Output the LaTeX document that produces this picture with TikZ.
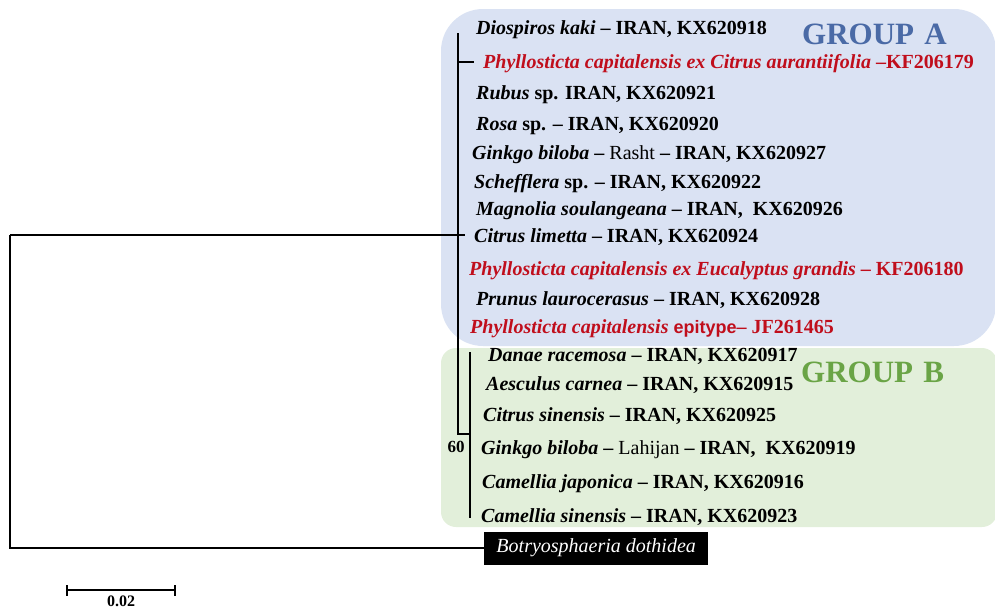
\documentclass[tikz,border=0pt]{standalone}
\usepackage{fontspec}
\setmainfont{Liberation Serif}
\setsansfont{Liberation Sans}
\definecolor{grpAfill}{RGB}{218,226,243}
\definecolor{grpBfill}{RGB}{226,239,218}
\definecolor{grpAtext}{RGB}{74,106,166}
\definecolor{grpBtext}{RGB}{106,164,70}
\definecolor{refred}{RGB}{192,14,28}
\tikzset{
  leaf/.style={anchor=base west, inner sep=0pt, font=\fontsize{20}{22}\selectfont\bfseries},
  redleaf/.style={leaf, text=refred},
  branch/.style={line width=1.4pt, black},
  grouplabel/.style={anchor=base west, inner sep=0pt, font=\fontsize{31}{33}\selectfont\bfseries},
}
\begin{document}
\begin{tikzpicture}[x=1pt,y=-1pt]
\useasboundingbox (0,0) rectangle (995,608);
% group boxes
\fill[grpAfill, rounded corners=42pt] (441,9) rectangle (996,346);
\fill[grpBfill, rounded corners=15pt] (441,348) rectangle (997,527);

\node[grouplabel, text=grpAtext] (ga) at (802,44) {GROUP\,\,A};
\node[grouplabel, text=grpBtext] (gb) at (801,382) {GROUP\,\,B};

% leaves
\node[leaf] (l1) at (476,34) {\textit{Diospiros kaki} -- IRAN, KX620918};
\node[redleaf] (l2) at (483,68) {\textit{Phyllosticta capitalensis ex Citrus aurantiifolia} --KF206179};
\node[leaf] (l3) at (476,99) {\textit{Rubus} sp. IRAN, KX620921};
\node[leaf] (l4) at (476,130) {\textit{Rosa} sp. -- IRAN, KX620920};
\node[leaf] (l5) at (472,159) {\textit{Ginkgo biloba} -- {\mdseries Rasht} -- IRAN, KX620927};
\node[leaf] (l6) at (474,188) {\textit{Schefflera} sp. -- IRAN, KX620922};
\node[leaf] (l7) at (476,215) {\textit{Magnolia soulangeana} -- IRAN,\ \ KX620926};
\node[leaf] (l8) at (474,242) {\textit{Citrus limetta} -- IRAN, KX620924};
\node[redleaf] (l9) at (469,275) {\textit{Phyllosticta capitalensis ex Eucalyptus grandis} -- KF206180};
\node[leaf] (l10) at (476,305) {\textit{Prunus laurocerasus} -- IRAN, KX620928};
\node[redleaf] (l11) at (470,333) {\textit{Phyllosticta capitalensis} {\sffamily\fontsize{18}{20}\selectfont epitype}-- JF261465};
\node[leaf] (l12) at (488,361) {\textit{Danae racemosa} -- IRAN, KX620917};
\node[leaf] (l13) at (486,390) {\textit{Aesculus carnea} -- IRAN, KX620915};
\node[leaf] (l14) at (483,421) {\textit{Citrus sinensis} -- IRAN, KX620925};
\node[leaf] (l15) at (481,454) {\textit{Ginkgo biloba} -- {\mdseries Lahijan} -- IRAN,\ \ KX620919};
\node[leaf] (l16) at (482,488) {\textit{Camellia japonica} -- IRAN, KX620916};
\node[leaf] (l17) at (481,522) {\textit{Camellia sinensis} -- IRAN, KX620923};

% outgroup
\node[fill=black, text=white, minimum width=224pt, minimum height=33pt, inner sep=0pt,
      font=\fontsize{20}{22}\selectfont\itshape, anchor=west] (out) at (484,548) {Botryosphaeria dothidea};

% bootstrap
\node[font=\fontsize{17}{19}\selectfont\bfseries, inner sep=0pt, anchor=base] (bs) at (456,452) {60};

% tree
\coordinate (topA) at (458,33);
\coordinate (jA) at (458,235);
\coordinate (jAB) at (458,434);
\coordinate (jB) at (470,434);
\coordinate (topB) at (470,352);
\coordinate (botB) at (470,518);
\coordinate (root) at (10,235);
\coordinate (rootb) at (10,548);
\coordinate (s2) at (474,62);
\coordinate (s8) at (465,235);
\draw[branch] (topA) -- (jAB) -- (jB);
\draw[branch] (topB) -- (botB);
\draw[branch] (topA |- s2) -- (s2);
\draw[branch] (root) -- (jA) -- (s8);
\draw[branch] (root) -- (rootb) -- (out.west);

% scale bar
\coordinate (sb1) at (67,590);
\coordinate (sb2) at (175,590);
\draw[line width=1.4pt] (sb1) -- (sb2);
\draw[line width=1.4pt] (67,585) -- (67,596);
\draw[line width=1.4pt] (175,585) -- (175,596);
\node[font=\fontsize{16}{18}\selectfont\bfseries, anchor=base, inner sep=0pt] (sbl) at (121,606) {0.02};
\end{tikzpicture}
\end{document}
